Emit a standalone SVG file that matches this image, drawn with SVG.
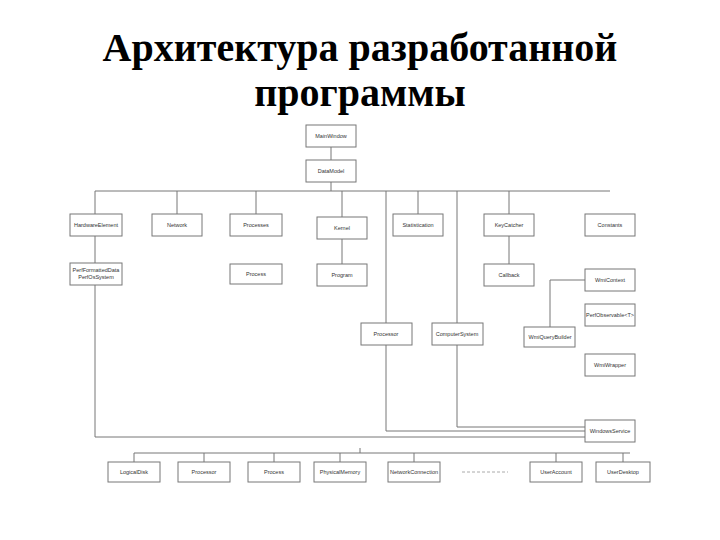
<svg xmlns="http://www.w3.org/2000/svg" width="720" height="540" viewBox="0 0 720 540">
<style>
.t{font-family:"Liberation Serif",serif;font-size:40px;font-weight:bold;text-anchor:middle;fill:#000}
.n rect{fill:#fff;stroke:#777;stroke-width:1}
.n text{font-family:"Liberation Sans",sans-serif;font-size:5.5px;text-anchor:middle;fill:#333}
#c line,#c polyline{stroke:#777;stroke-width:1;fill:none}
</style>
<rect width="720" height="540" fill="#fff"/>
<text class="t" x="360" y="61">Архитектура разработанной</text>
<text class="t" x="360" y="106">программы</text>
<g id="c">
<line x1="331" y1="147" x2="331" y2="160"/>
<line x1="331" y1="182" x2="331" y2="191"/>
<line x1="95" y1="191" x2="610" y2="191"/>
<line x1="95" y1="191" x2="95" y2="214"/>
<line x1="177" y1="191" x2="177" y2="214"/>
<line x1="256" y1="191" x2="256" y2="214"/>
<line x1="342" y1="191" x2="342" y2="217"/>
<line x1="418" y1="191" x2="418" y2="214"/>
<line x1="509" y1="191" x2="509" y2="214"/>
<line x1="95" y1="236" x2="95" y2="263"/>
<line x1="342" y1="239" x2="342" y2="264"/>
<line x1="509" y1="236" x2="509" y2="264"/>
<line x1="386" y1="191" x2="386" y2="323"/>
<line x1="457" y1="191" x2="457" y2="323"/>
<polyline points="550,327 550,280 585,280"/>
<polyline points="95,285 95,437 585,437"/>
<polyline points="386,345 386,431 585,431"/>
<polyline points="457,345 457,427 585,427"/>
<line x1="134" y1="453" x2="630" y2="453"/>
<line x1="134" y1="453" x2="134" y2="462"/>
<line x1="204" y1="453" x2="204" y2="462"/>
<line x1="274" y1="453" x2="274" y2="462"/>
<line x1="340" y1="453" x2="340" y2="462"/>
<line x1="414" y1="453" x2="414" y2="462"/>
<line x1="556" y1="453" x2="556" y2="462"/>
<line x1="623" y1="453" x2="623" y2="462"/>
<line x1="360" y1="448" x2="360" y2="453"/>
</g>
<g id="MainWindow" class="n"><rect x="306" y="125" width="50" height="22"/><text x="331" y="138">MainWindow</text></g>
<g id="DataModel" class="n"><rect x="306" y="160" width="50" height="22"/><text x="331" y="173">DataModel</text></g>
<g id="HardwareElement" class="n"><rect x="70" y="214" width="52" height="22"/><text x="96" y="227">HardwareElement</text></g>
<g id="Network" class="n"><rect x="152" y="214" width="50" height="22"/><text x="177" y="227">Network</text></g>
<g id="Processes" class="n"><rect x="230" y="214" width="52" height="22"/><text x="256" y="227">Processes</text></g>
<g id="Kernel" class="n"><rect x="317" y="217" width="50" height="22"/><text x="342" y="230">Kernel</text></g>
<g id="Statistics" class="n"><rect x="393" y="214" width="50" height="22"/><text x="418" y="227">Statistication</text></g>
<g id="KeyCatcher" class="n"><rect x="484" y="214" width="50" height="22"/><text x="509" y="227">KeyCatcher</text></g>
<g id="Constants" class="n"><rect x="585" y="214" width="50" height="22"/><text x="610" y="227">Constants</text></g>
<g id="PerfFormatted" class="n"><rect x="70" y="263" width="52" height="22"/><text x="96" y="272">PerfFormattedData</text><text x="96" y="279">PerfOsSystem</text></g>
<g id="Process" class="n"><rect x="230" y="264" width="52" height="20"/><text x="256" y="276">Process</text></g>
<g id="Program" class="n"><rect x="317" y="264" width="50" height="22"/><text x="342" y="277">Program</text></g>
<g id="Callback" class="n"><rect x="484" y="264" width="50" height="22"/><text x="509" y="277">Callback</text></g>
<g id="WmiContext" class="n"><rect x="585" y="269" width="50" height="22"/><text x="610" y="282">WmiContext</text></g>
<g id="PerfObservable" class="n"><rect x="585" y="304" width="50" height="22"/><text x="610" y="317">PerfObservable&lt;T&gt;</text></g>
<g id="Processor" class="n"><rect x="361" y="323" width="51" height="22"/><text x="386" y="336">Processor</text></g>
<g id="ComputerSystem" class="n"><rect x="432" y="323" width="51" height="22"/><text x="457" y="336">ComputerSystem</text></g>
<g id="WmiQueryBuilder" class="n"><rect x="524" y="327" width="51" height="20"/><text x="550" y="339">WmiQueryBuilder</text></g>
<g id="WmiWrapper" class="n"><rect x="585" y="354" width="50" height="22"/><text x="610" y="367">WmiWrapper</text></g>
<g id="WindowsService" class="n"><rect x="585" y="420" width="50" height="22"/><text x="610" y="433">WindowsService</text></g>
<g id="LogicalDisk" class="n"><rect x="108" y="462" width="52" height="20"/><text x="134" y="474">LogicalDisk</text></g>
<g id="Processor2" class="n"><rect x="178" y="462" width="52" height="20"/><text x="204" y="474">Processor</text></g>
<g id="Process2" class="n"><rect x="248" y="462" width="52" height="20"/><text x="274" y="474">Process</text></g>
<g id="PhysicalMemory" class="n"><rect x="314" y="462" width="52" height="20"/><text x="340" y="474">PhysicalMemory</text></g>
<g id="NetworkConnection" class="n"><rect x="388" y="462" width="52" height="20"/><text x="414" y="474">NetworkConnection</text></g>
<line x1="462" y1="472" x2="508" y2="472" stroke="#aaa" stroke-width="1" stroke-dasharray="3,2"/>
<g id="UserAccount" class="n"><rect x="530" y="462" width="52" height="20"/><text x="556" y="474">UserAccount</text></g>
<g id="UserDesktop" class="n"><rect x="596" y="462" width="54" height="20"/><text x="623" y="474">UserDesktop</text></g>
</svg>
